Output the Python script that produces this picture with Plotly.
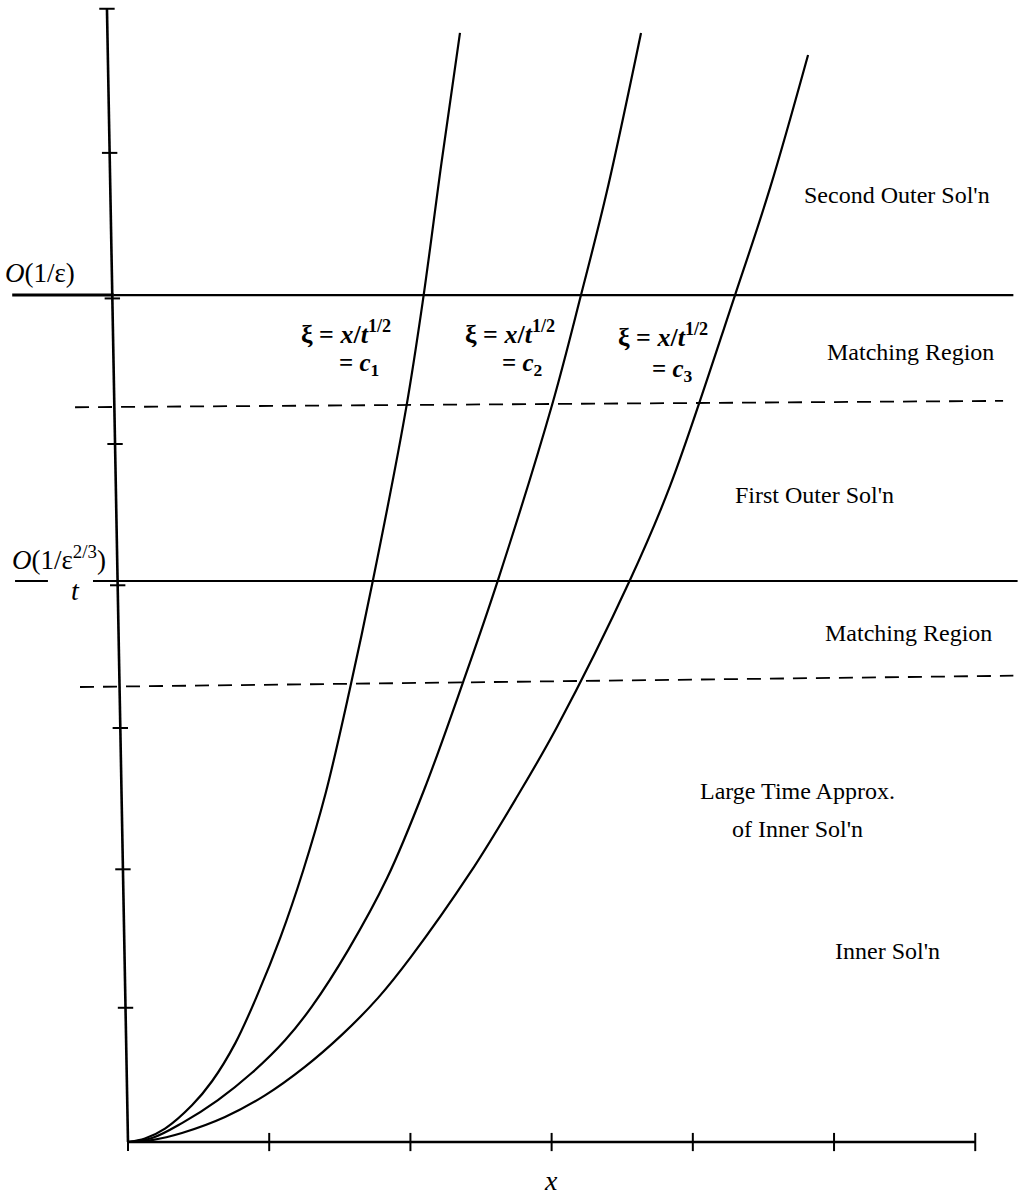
import plotly.graph_objects as go

# ---- data (in axis units; 1 unit = one tick interval) ----
x_ticks = [0, 1, 2, 3, 4, 5, 6]
t_ticks = [0.95, 1.93, 2.93, 3.94, 4.94, 5.97, 7.0]
t_axis_top = 8.02
axis_lean = -0.149          # x offset of the hand-drawn t-axis at its top

t_outer = 5.994             # O(1/eps)
t_inner = 3.97              # O(1/eps^{2/3}) = t
dash_upper = [5.20, 5.245]  # left / right level of upper matching boundary
dash_lower = [3.22, 3.30]   # left / right level of lower matching boundary

curve1_x = [0, 0.120, 0.262, 0.453, 0.595, 0.760, 0.920, 1.080, 1.240, 1.400, 1.570, 1.735, 1.969, 2.089, 2.220, 2.351]
curve1_t = [0, 0.025, 0.095, 0.260, 0.430, 0.700, 1.050, 1.450, 1.920, 2.470, 3.200, 3.977, 5.190, 5.960, 6.930, 7.849]
curve2_x = [0, 0.170, 0.382, 0.637, 0.878, 1.112, 1.303, 1.560, 1.834, 2.100, 2.373, 2.620, 3.003, 3.208, 3.392, 3.633]
curve2_t = [0, 0.028, 0.134, 0.297, 0.490, 0.720, 0.960, 1.360, 1.866, 2.500, 3.255, 3.977, 5.216, 5.994, 6.730, 7.849]
curve3_x = [0, 0.170, 0.382, 0.687, 0.970, 1.250, 1.516, 1.771, 2.004, 2.422, 2.741, 3.038, 3.555, 3.839, 4.299, 4.547, 4.816]
curve3_t = [0, 0.014, 0.064, 0.177, 0.330, 0.530, 0.760, 1.020, 1.310, 1.904, 2.420, 2.937, 3.977, 4.643, 5.994, 6.752, 7.693]

region_labels = ["Second Outer Sol'n", "Matching Region", "First Outer Sol'n",
                 "Matching Region", "Large Time Approx.", "of Inner Sol'n", "Inner Sol'n"]
region_x = [5.446, 5.538, 4.865, 5.524, 4.738, 4.738, 5.382]
region_t = [6.70, 5.59, 4.58, 3.60, 2.484, 2.215, 1.352]

xi_line1_x = [1.543, 2.705, 3.788]
xi_line1_t = [5.73, 5.73, 5.71]
xi_line2_x = [1.636, 2.79, 3.853]
xi_line2_t = [5.50, 5.50, 5.46]
xi_subs = ["1", "2", "3"]

FONT = "Liberation Serif"
BLACK = "black"

fig = go.Figure()

def line(xs, ys, width=2, dash=None, shape="linear"):
    ln = dict(color=BLACK, width=width, dash=dash, shape=shape)
    if shape == "spline":
        ln["smoothing"] = 1.0
    fig.add_trace(go.Scatter(x=xs, y=ys, mode="lines", line=ln,
                             hoverinfo="skip", showlegend=False))

# axes
line([x_ticks[0], x_ticks[-1]], [0, 0], width=2.5)
line([0, axis_lean], [0, t_axis_top], width=2.6)

# tick marks
fig.add_trace(go.Scatter(x=x_ticks, y=[0] * len(x_ticks), mode="markers",
                         marker=dict(symbol="line-ns", size=13, line=dict(color=BLACK, width=2)),
                         hoverinfo="skip", showlegend=False))
ty = list(t_ticks) + [t_axis_top]
tx = [axis_lean * t / t_axis_top for t in ty]
fig.add_trace(go.Scatter(x=tx, y=ty, mode="markers",
                         marker=dict(symbol="line-ew", size=11, line=dict(color=BLACK, width=2)),
                         hoverinfo="skip", showlegend=False))

# horizontal levels
line([-0.82, -0.10], [t_outer, t_outer], width=3)
line([-0.10, 6.27], [t_outer, t_outer], width=2.2)
line([-0.80, -0.567], [t_inner, t_inner], width=2)
line([-0.248, 6.30], [t_inner, t_inner], width=2)
line([-0.375, 6.197], dash_upper, width=1.8, dash="14px,9px")
line([-0.34, 6.27], dash_lower, width=1.8, dash="14px,9px")

# curves xi = const
for cx, ct in [(curve1_x, curve1_t), (curve2_x, curve2_t), (curve3_x, curve3_t)]:
    line(cx, ct, width=2.2, shape="spline")

ann = []
for txt, x, t in zip(region_labels, region_x, region_t):
    ann.append(dict(x=x, y=t, text=txt, showarrow=False, xanchor="center", yanchor="middle",
                    font=dict(family=FONT, size=24, color=BLACK)))
for i in range(3):
    ann.append(dict(x=xi_line1_x[i], y=xi_line1_t[i],
                    text="<b>ξ = <i>x</i>/<i>t</i><sup>1/2</sup></b>",
                    showarrow=False, xanchor="center", yanchor="middle",
                    font=dict(family=FONT, size=26, color=BLACK)))
    ann.append(dict(x=xi_line2_x[i], y=xi_line2_t[i],
                    text="<b>= <i>c</i><sub>" + xi_subs[i] + "</sub></b>",
                    showarrow=False, xanchor="center", yanchor="middle",
                    font=dict(family=FONT, size=25, color=BLACK)))
ann.append(dict(x=-0.623, y=6.15, text="<i>O</i>(1/ε)", showarrow=False,
                xanchor="center", yanchor="middle", font=dict(family=FONT, size=27, color=BLACK)))
ann.append(dict(x=-0.489, y=4.13, text="<i>O</i>(1/ε<sup>2/3</sup>)", showarrow=False,
                xanchor="center", yanchor="middle", font=dict(family=FONT, size=27, color=BLACK)))
ann.append(dict(x=-0.375, y=3.90, text="<i>t</i>", showarrow=False,
                xanchor="center", yanchor="middle", font=dict(family=FONT, size=28, color=BLACK)))
ann.append(dict(x=2.996, y=-0.27, text="<i>x</i>", showarrow=False,
                xanchor="center", yanchor="middle", font=dict(family=FONT, size=28, color=BLACK)))

fig.update_layout(
    width=1021, height=1196,
    margin=dict(l=0, r=0, t=0, b=0),
    paper_bgcolor="white", plot_bgcolor="white",
    xaxis=dict(range=[-0.9065, 6.324], visible=False, fixedrange=True),
    yaxis=dict(range=[-0.382, 8.082], visible=False, fixedrange=True),
    annotations=ann,
    showlegend=False,
)

fig.write_html("out.html", config={"displayModeBar": False},
               post_script="document.body.style.margin='0';document.body.style.overflow='hidden';")
